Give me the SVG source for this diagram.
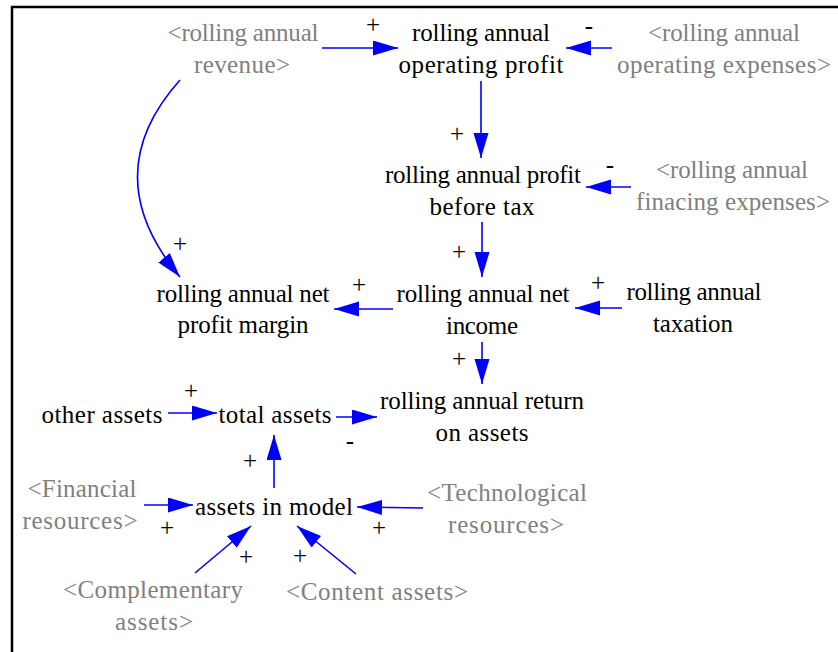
<svg xmlns="http://www.w3.org/2000/svg" width="838" height="652" viewBox="0 0 838 652" font-family="'Liberation Serif', 'Times New Roman', Times, serif">
  <defs>
    <marker id="head" markerUnits="userSpaceOnUse" markerWidth="26" markerHeight="16" refX="25" refY="7.5" orient="auto">
      <path d="M0,0 L25,7.5 L0,15 z" fill="#0000ff"/>
    </marker>
    <style>
      text { font-family: 'Liberation Serif', 'Times New Roman', Times, serif; font-size: 25px; text-anchor: middle; }
      .var { fill: #000; }
      .shadow { fill: #808080; }
      .sign { font-size: 25px; fill: #000; }
      .link { fill: none; stroke: #0000ff; stroke-width: 1.6; marker-end: url(#head); }
    </style>
  </defs>

  <rect width="838" height="652" fill="#fff"/>
  <!-- frame -->
  <path d="M12,652 V7 H838" fill="none" stroke="#000" stroke-width="2.5"/>

  <!-- connectors -->
  <g id="links">
    <path class="link" d="M322,48 H398"/>
    <path class="link" d="M612,48 H566"/>
    <path class="link" d="M481,81 V158"/>
    <path class="link" d="M631,187 H586"/>
    <path class="link" d="M482,222 V277"/>
    <path class="link" d="M622,308 H575"/>
    <path class="link" d="M393,309 H334"/>
    <path class="link" d="M482,342 V384"/>
    <path class="link" d="M180,80 Q95,175 180,277"/>
    <path class="link" d="M168,413 H217"/>
    <path class="link" d="M336,417 H377"/>
    <path class="link" d="M274,488 V435"/>
    <path class="link" d="M144,505 H193"/>
    <path class="link" d="M423,508 L357,507"/>
    <path class="link" d="M195,573 L251,526"/>
    <path class="link" d="M356,574 L297,526"/>
  </g>

  <!-- polarity signs -->
  <g id="signs">
    <text class="sign" x="373" y="33">+</text>
    <text class="sign" x="589" y="34">-</text>
    <text class="sign" x="457" y="142">+</text>
    <text class="sign" x="610" y="173">-</text>
    <text class="sign" x="459" y="260">+</text>
    <text class="sign" x="598" y="291">+</text>
    <text class="sign" x="359" y="293">+</text>
    <text class="sign" x="459" y="367">+</text>
    <text class="sign" x="180" y="252">+</text>
    <text class="sign" x="191" y="399">+</text>
    <text class="sign" x="350" y="449">-</text>
    <text class="sign" x="250" y="469">+</text>
    <text class="sign" x="167" y="536">+</text>
    <text class="sign" x="379" y="536">+</text>
    <text class="sign" x="246" y="565">+</text>
    <text class="sign" x="300" y="564">+</text>
  </g>

  <!-- variables -->
  <g id="revenue"><text class="shadow" x="243" y="41" textLength="151">&lt;rolling annual</text><text class="shadow" x="242" y="73" textLength="96">revenue&gt;</text></g>
  <g id="operating-profit"><text class="var" x="481" y="41" textLength="138">rolling annual</text><text class="var" x="481" y="73" textLength="165">operating profit</text></g>
  <g id="operating-expenses"><text class="shadow" x="724" y="41" textLength="152">&lt;rolling annual</text><text class="shadow" x="724" y="73" textLength="214">operating expenses&gt;</text></g>
  <g id="profit-before-tax"><text class="var" x="483" y="183" textLength="196">rolling annual profit</text><text class="var" x="482" y="215" textLength="105">before tax</text></g>
  <g id="financing-expenses"><text class="shadow" x="732" y="178" textLength="152">&lt;rolling annual</text><text class="shadow" x="733" y="210" textLength="194">finacing expenses&gt;</text></g>
  <g id="net-income"><text class="var" x="483" y="302" textLength="173">rolling annual net</text><text class="var" x="482" y="334" textLength="72">income</text></g>
  <g id="taxation"><text class="var" x="694" y="300" textLength="135">rolling annual</text><text class="var" x="693" y="332" textLength="80">taxation</text></g>
  <g id="net-profit-margin"><text class="var" x="243" y="302" textLength="173">rolling annual net</text><text class="var" x="243" y="333" textLength="131">profit margin</text></g>
  <g id="return-on-assets"><text class="var" x="482" y="409" textLength="204">rolling annual return</text><text class="var" x="482" y="441" textLength="93">on assets</text></g>
  <g id="other-assets"><text class="var" x="102" y="423" textLength="121">other assets</text></g>
  <g id="total-assets"><text class="var" x="275" y="423" textLength="113">total assets</text></g>
  <g id="assets-in-model"><text class="var" x="274" y="515" textLength="158">assets in model</text></g>
  <g id="financial-resources"><text class="shadow" x="82" y="497" textLength="109">&lt;Financial</text><text class="shadow" x="80" y="529" textLength="115">resources&gt;</text></g>
  <g id="technological-resources"><text class="shadow" x="507" y="501" textLength="160">&lt;Technological</text><text class="shadow" x="506" y="533" textLength="116">resources&gt;</text></g>
  <g id="complementary-assets"><text class="shadow" x="153" y="598" textLength="180">&lt;Complementary</text><text class="shadow" x="154" y="630" textLength="78">assets&gt;</text></g>
  <g id="content-assets"><text class="shadow" x="377" y="600" textLength="182">&lt;Content assets&gt;</text></g>
</svg>
